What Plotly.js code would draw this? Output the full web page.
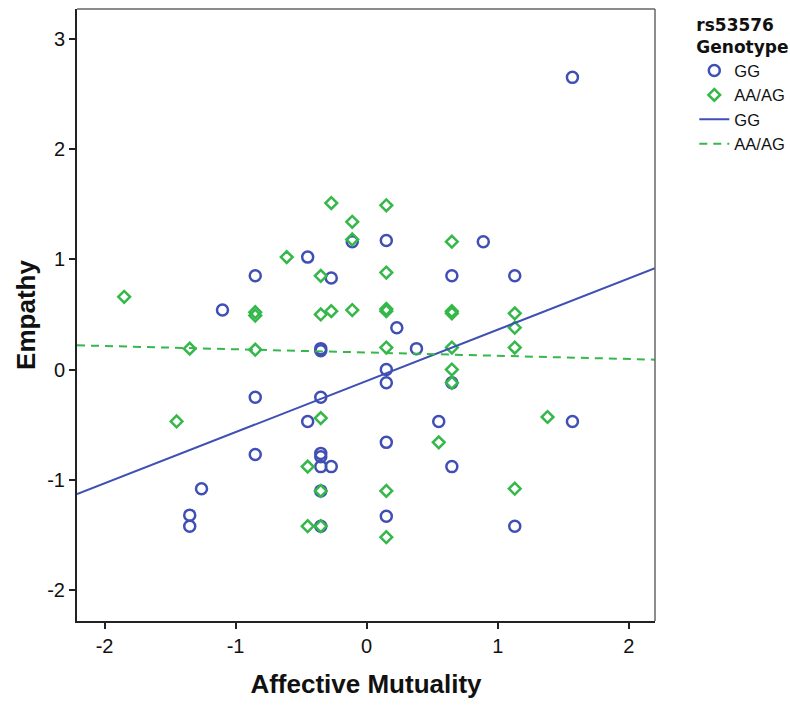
<!DOCTYPE html>
<html>
<head>
<meta charset="utf-8">
<script src="https://cdn.plot.ly/plotly-3.0.1.min.js"></script>
<style>
  html, body { margin: 0; padding: 0; background: #fff; }
  #chart { width: 790px; height: 707px; }
</style>
</head>
<body>
<div id="chart"></div>
<script>
// GG 组 (蓝色圆圈)
const ggX = [1.57, -0.11, 0.15, 0.89, -0.45, -0.85, -0.27, 0.65, 1.13, -1.1,
             0.23, -0.35, -0.35, 0.38, 0.15, 0.15, 0.65, -0.85, -0.35, -0.45,
             0.55, 1.57, 0.15, -0.85, -0.35, -0.35, -0.35, -0.27, 0.65, -1.26,
             -0.35, 0.15, -1.35, -1.35, -0.35, 1.13];
const ggY = [2.65, 1.16, 1.17, 1.16, 1.02, 0.85, 0.83, 0.85, 0.85, 0.54,
             0.38, 0.19, 0.17, 0.19, 0.0, -0.12, -0.12, -0.25, -0.25, -0.47,
             -0.47, -0.47, -0.66, -0.77, -0.76, -0.79, -0.88, -0.88, -0.88, -1.08,
             -1.1, -1.33, -1.32, -1.42, -1.42, -1.42];

// AA/AG 组 (绿色菱形)
const aaX = [-1.85, -1.45, -1.35, -0.85, -0.85, -0.85, -0.61, -0.45, -0.45, -0.35,
             -0.35, -0.35, -0.35, -0.35, -0.27, -0.27, -0.11, -0.11, -0.11, 0.15,
             0.15, 0.15, 0.15, 0.15, 0.15, 0.15, 0.55, 0.65, 0.65, 0.65,
             0.65, 0.65, 0.65, 1.13, 1.13, 1.13, 1.13, 1.38];
const aaY = [0.66, -0.47, 0.19, 0.52, 0.49, 0.18, 1.02, -0.88, -1.42, 0.85,
             0.5, -0.44, -1.1, -1.42, 1.51, 0.53, 1.34, 1.18, 0.54, 1.49,
             0.88, 0.53, 0.55, 0.2, -1.1, -1.52, -0.66, 1.16, 0.53, 0.51,
             0.2, 0.0, -0.12, 0.51, 0.38, 0.2, -1.08, -0.43];

// 拟合线 (从图中读取端点)
const fitX = [-2.21, 2.2];
const fitGG = [-1.13, 0.92];
const fitAA = [0.22, 0.09];

// 刻度
const xTicks = [-2, -1, 0, 1, 2];
const xTickText = ['-2', '-1', '0', '1', '2'];
const yTicks = [-2, -1, 0, 1, 2, 3];
const yTickText = ['-2', '-1', '0', '1', '2', '3'];

const blue = '#3f4fb4';
const green = '#35b84a';

const data = [
    {
        x: ggX, y: ggY, type: 'scatter', mode: 'markers', name: 'GG',
        marker: { symbol: 'circle-open', size: 11, color: blue, line: { width: 2.5, color: blue } }
    },
    {
        x: aaX, y: aaY, type: 'scatter', mode: 'markers', name: 'AA/AG',
        marker: { symbol: 'diamond-open', size: 9, color: green, line: { width: 2.5, color: green } }
    },
    {
        x: fitX, y: fitGG, type: 'scatter', mode: 'lines', name: 'GG',
        line: { color: blue, width: 2 }
    },
    {
        x: fitX, y: fitAA, type: 'scatter', mode: 'lines', name: 'AA/AG',
        line: { color: green, width: 2, dash: '8px,6px' }
    }
];

const tickFont = { family: '"Liberation Sans Narrow", "Arial Narrow", "Liberation Sans", sans-serif', size: 20, color: '#111' };
const titleFont = { family: '"Liberation Sans Narrow", "Arial Narrow", "Liberation Sans", sans-serif', size: 26, color: '#111', weight: 'bold' };

const layout = {
    width: 790,
    height: 707,
    margin: { l: 77, r: 135, t: 9, b: 86, autoexpand: false },
    paper_bgcolor: '#fff',
    plot_bgcolor: '#fff',
    showlegend: true,
    xaxis: {
        range: [-2.21, 2.2],
        tickvals: xTicks, ticktext: xTickText,
        ticks: 'outside', ticklen: 6, tickwidth: 1.5, tickcolor: '#222',
        showgrid: false, zeroline: false,
        showline: true, linecolor: '#222', linewidth: 2,
        tickfont: tickFont,
        automargin: false,
        title: { text: 'Affective Mutuality', font: titleFont, standoff: 19 }
    },
    yaxis: {
        range: [-2.28, 3.27],
        tickvals: yTicks, ticktext: yTickText,
        ticks: 'outside', ticklen: 6, tickwidth: 1.5, tickcolor: '#222',
        showgrid: false, zeroline: false,
        showline: true, linecolor: '#222', linewidth: 2,
        tickfont: tickFont,
        automargin: false,
        title: { text: 'Empathy', font: titleFont, standoff: 4 }
    },
    shapes: [
        // 上边框和右边框 (灰色)
        { type: 'line', xref: 'paper', yref: 'paper', x0: 0, x1: 1, y0: 1, y1: 1, line: { color: '#666', width: 1.5 } },
        { type: 'line', xref: 'paper', yref: 'paper', x0: 1, x1: 1, y0: 0, y1: 1, line: { color: '#666', width: 1.5 } }
    ],
    legend: {
        x: 1.068, xanchor: 'left',
        y: 1.0, yanchor: 'top',
        bgcolor: 'rgba(0,0,0,0)',
        font: { family: '"Liberation Sans", Arial, sans-serif', size: 16.5, color: '#111' },
        itemwidth: 30,
        tracegroupgap: 0,
        title: {
            text: '<b>rs53576<br>Genotype</b>',
            side: 'top',
            font: { family: '"DejaVu Sans", "Open Sans", sans-serif', size: 17, color: '#111' }
        }
    }
};

Plotly.newPlot('chart', data, layout, { displayModeBar: false });
</script>
</body>
</html>
